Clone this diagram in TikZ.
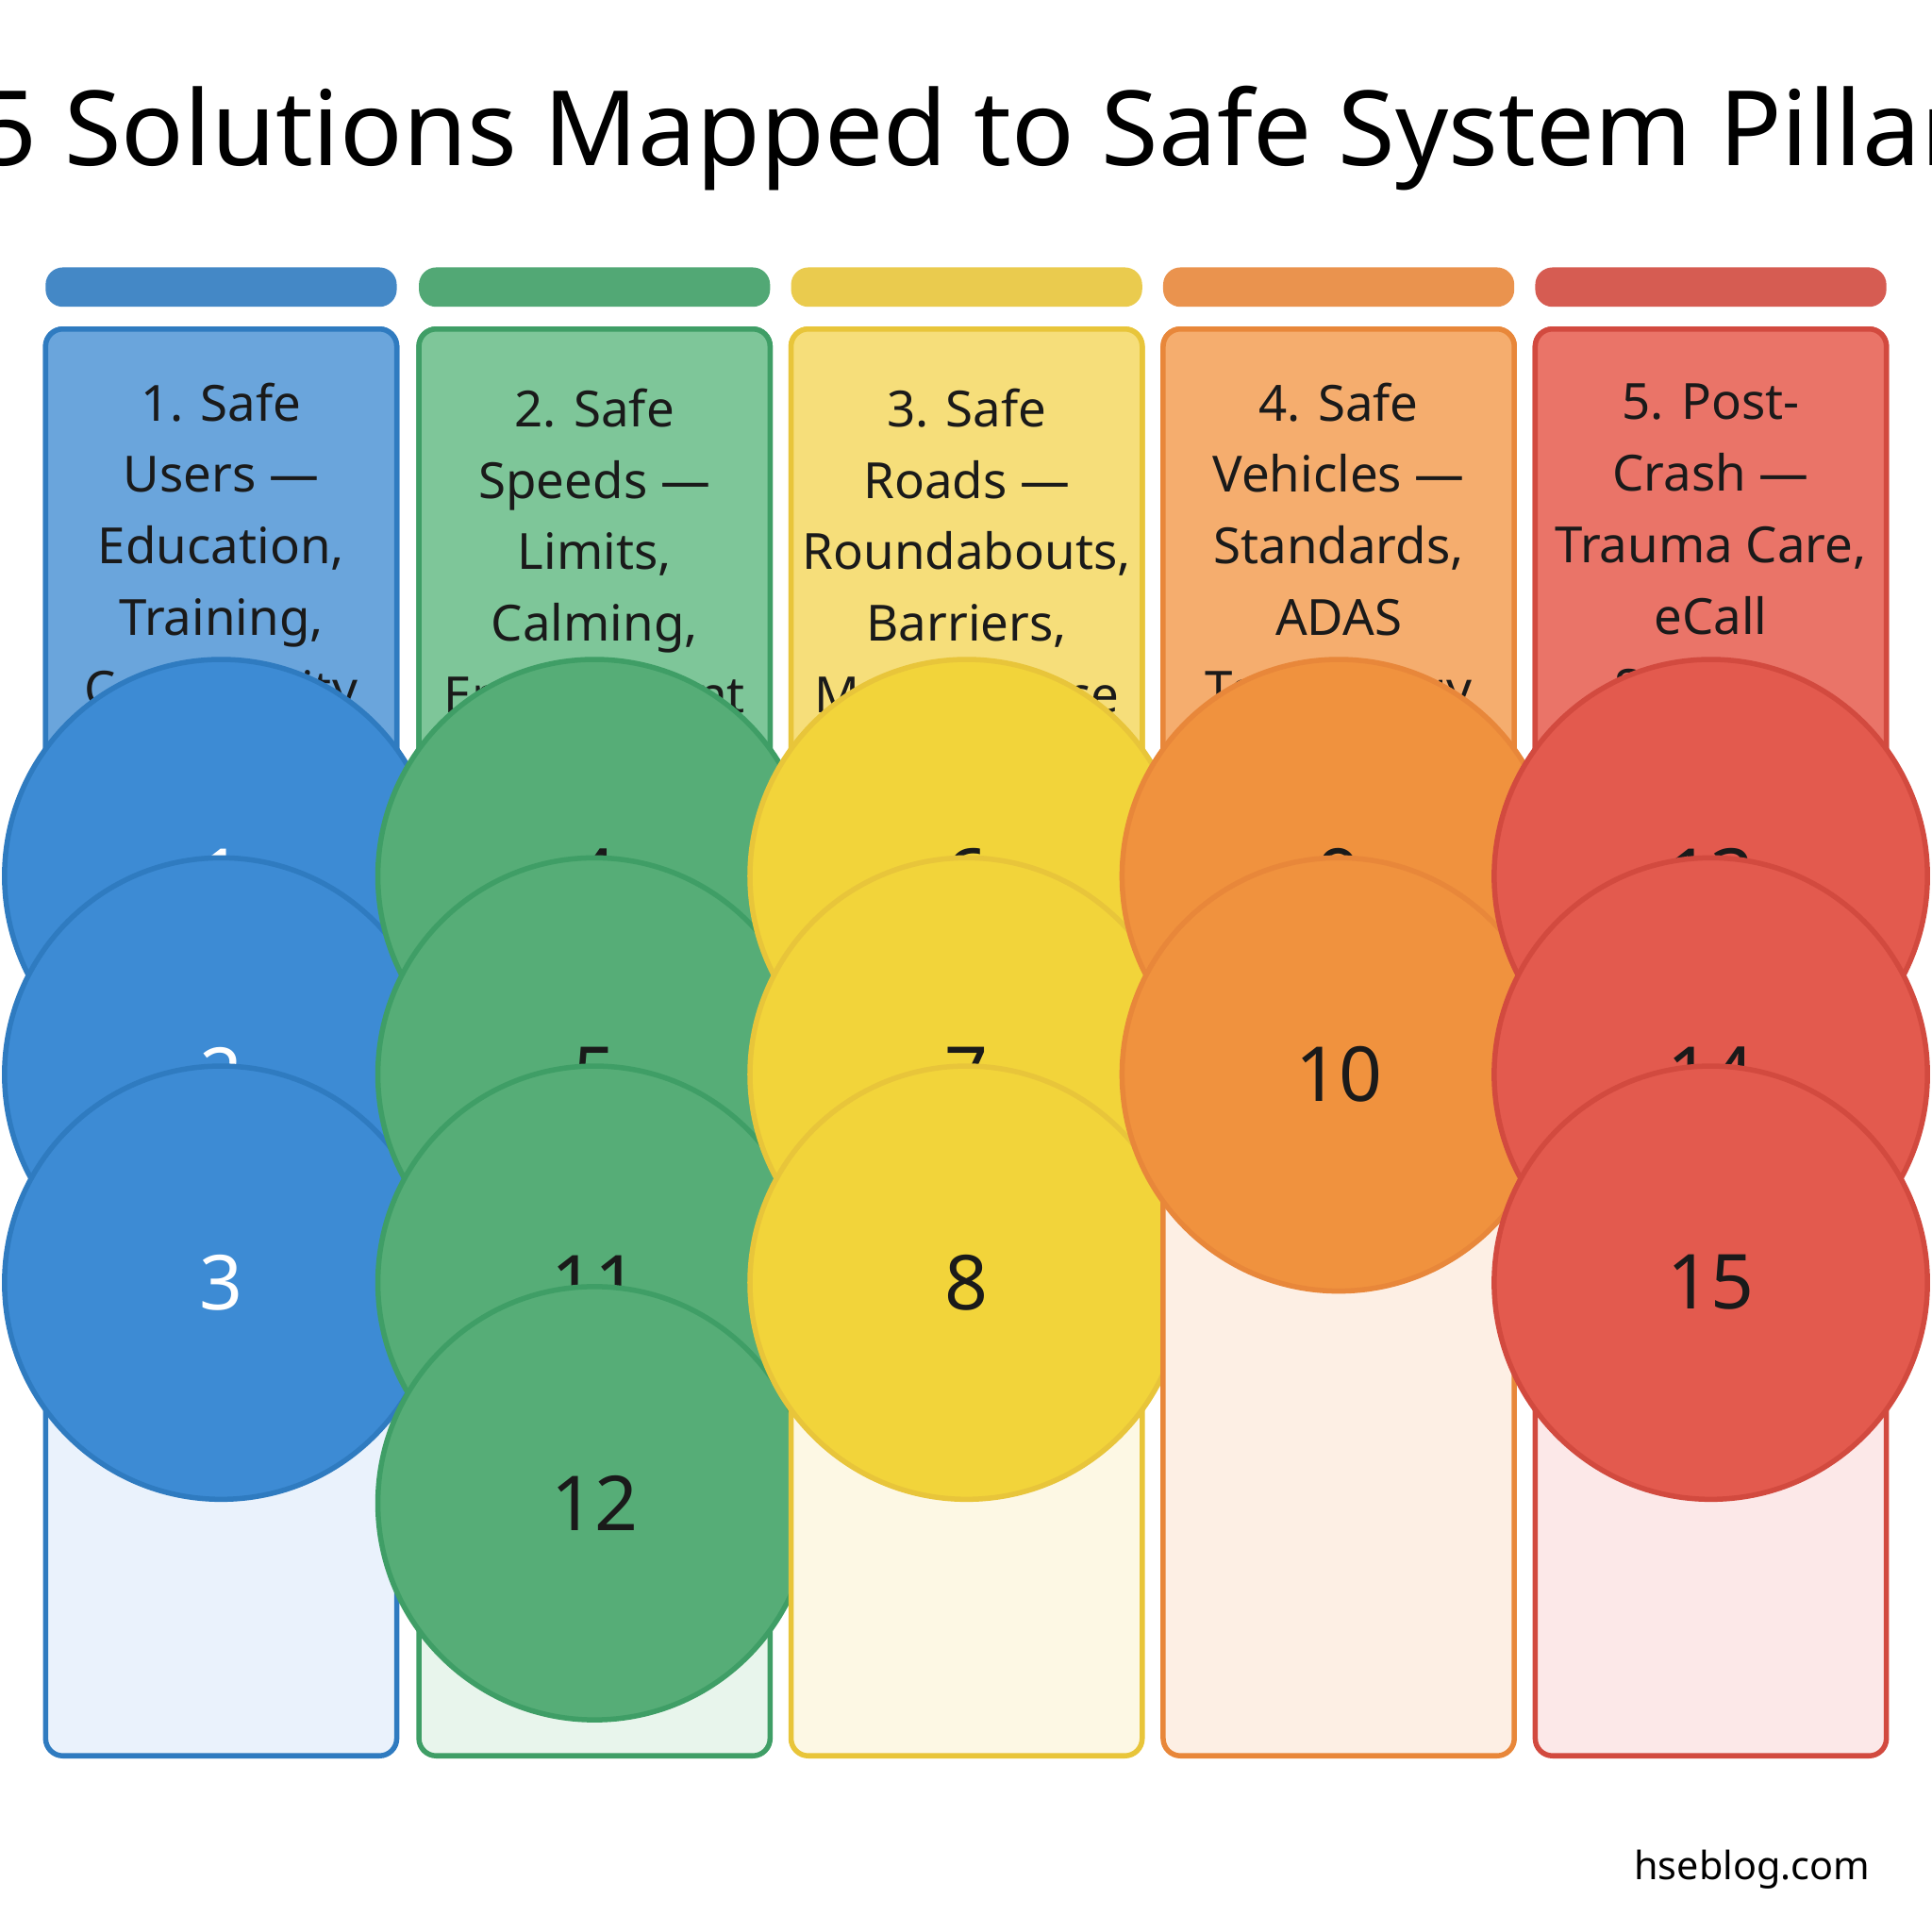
\documentclass[tikz,border=0pt]{standalone}
\usepackage{fontspec}
\setmainfont{Noto Sans}
\usepackage{tikz}
\usetikzlibrary{calc}
\definecolor{bluA}{HTML}{2F7BC0}\definecolor{bluB}{HTML}{6AA5DC}\definecolor{bluC}{HTML}{3D8BD4}\definecolor{bluD}{HTML}{EAF2FC}
\definecolor{grnA}{HTML}{3F9E66}\definecolor{grnB}{HTML}{7EC699}\definecolor{grnC}{HTML}{56AD77}\definecolor{grnD}{HTML}{E8F5EC}
\definecolor{yelA}{HTML}{E8C53A}\definecolor{yelB}{HTML}{F6DE7A}\definecolor{yelC}{HTML}{F2D43A}\definecolor{yelD}{HTML}{FDF8E4}
\definecolor{orgA}{HTML}{E8873A}\definecolor{orgB}{HTML}{F5AD6E}\definecolor{orgC}{HTML}{F0923E}\definecolor{orgD}{HTML}{FDEFE4}
\definecolor{redA}{HTML}{D24A3F}\definecolor{redB}{HTML}{EA7468}\definecolor{redC}{HTML}{E35A4E}\definecolor{redD}{HTML}{FCE8E8}
\definecolor{dark}{HTML}{1A1A1A}
\tikzset{
  numdot/.style={circle,minimum size=100,inner sep=0,line width=1.2pt,font=\fontsize{17.5}{18}\selectfont\bfseries},
  headtxt/.style={align=center,font=\fontsize{11.5}{16.5}\selectfont,text=dark}
}
\begin{document}
\begin{tikzpicture}[x=0.01cm,y=-0.01cm]
	\useasboundingbox (0,0) rectangle (1568,1568);
	\node (title) at (784,112) {\fontsize{24}{28}\selectfont 15 Solutions Mapped to Safe System Pillars};
	\foreach \c/\tc/\x/\hd/\nums in {
		blu/white/37/{\textbf{1. Safe}\\\textbf{Users ---}\\Education,\\Training,\\Community}/{1/711,2/872,3/1041},
		grn/dark/340/{\textbf{2. Safe}\\\textbf{Speeds ---}\\Limits,\\Calming,\\Enforcement}/{4/711,5/872,11/1041,12/1220},
		yel/dark/642/{\textbf{3. Safe}\\\textbf{Roads ---}\\Roundabouts,\\Barriers,\\Maintenance}/{6/711,7/872,8/1041},
		org/dark/944/{\textbf{4. Safe}\\\textbf{Vehicles ---}\\Standards,\\ADAS\\Technology}/{9/711,10/872},
		red/dark/1246/{\textbf{5. Post-}\\\textbf{Crash ---}\\Trauma Care,\\eCall\\Systems}/{13/711,14/872,15/1041}}{
		\fill[\c A!90,rounded corners=4pt] (\x,217) rectangle (\x+285,249); %bar
		\draw[line width=1.2pt,draw=\c A,fill=\c D,rounded corners=4pt] (\x,267) rectangle (\x+285,1425); %column
		\draw[line width=1.2pt,draw=\c A,fill=\c B] (\x,619) [rounded corners=4pt] -- (\x,267) -- (\x+285,267) [sharp corners] -- (\x+285,619) -- cycle; %header
		\node[headtxt] (head-\c) at (\x+142.5,447) {\hd};
		\foreach \n/\y in \nums
			\node[numdot,fill=\c C,draw=\c A,text=\tc] (dot-\n) at (\x+142.5,\y) {\n};
	}
	\node[anchor=east] (site) at (1530,1517) {\fontsize{9}{10}\selectfont hseblog.com};
\end{tikzpicture}
\end{document}
